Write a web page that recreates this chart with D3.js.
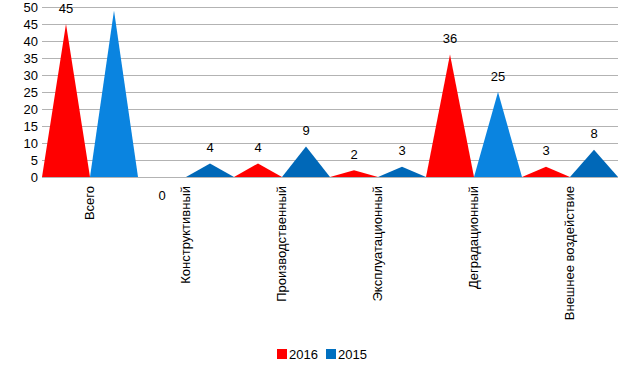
<!DOCTYPE html>
<html><head><meta charset="utf-8">
<script src="https://cdn.jsdelivr.net/npm/d3@7/dist/d3.min.js"></script>
<style>
body{margin:0;background:#fff;}
svg{font-family:"Liberation Sans",Arial,sans-serif;}
</style></head>
<body><svg id="c" width="643" height="365"></svg>
<script>
const categories = ["Всего","Конструктивный","Производственный","Эксплуатационный","Деградационный","Внешнее воздействие"];
const series2016 = [45,0,4,2,36,3];
const series2015 = [49,4,9,3,25,8];
const labels2015 = [null,"4","9","3","25","8"];
const labels2016 = ["45","0","4","2","36","3"];
const seriesNames = ["2016","2015"];
const yTicks = [0,5,10,15,20,25,30,35,40,45,50];

const svg = d3.select("#c");
const L = 42, R = 618, T = 7, B = 177;
const x = d3.scaleBand().domain(categories).range([L,R]).padding(0);
const y = d3.scaleLinear().domain([0,50]).range([B,T]);

// grid
svg.append("g").selectAll("line").data(yTicks).join("line")
  .attr("x1",L).attr("x2",R).attr("y1",d=>y(d)+0.5).attr("y2",d=>y(d)+0.5)
  .attr("stroke","#b3b3b3").attr("stroke-width",1);

// y labels
svg.append("g").selectAll("text").data(yTicks).join("text")
  .attr("x",38).attr("y",d=>y(d)).attr("dy","0.35em").attr("text-anchor","end")
  .attr("font-size",13).attr("fill","#000").text(d=>d);

const red = "#ff0000";
const blueLight = "#0a84e0", blueDark = "#0068b8";

function tri(cat, off, v){
  const bw = x.bandwidth()/2;
  const x0 = x(cat)+off*bw, x1 = x0+bw, xm = x0+bw/2;
  return `M${x0},${y(0)}L${xm},${y(v)}L${x1},${y(0)}Z`;
}
const g = svg.append("g");
categories.forEach((c,i)=>{
  g.append("path").attr("d",tri(c,0,series2016[i])).attr("fill",red);
  g.append("path").attr("d",tri(c,1,series2015[i])).attr("fill",series2015[i]>20?blueLight:blueDark);
});

// value labels
function addLabel(cat, off, v, txt){
  if(txt==null) return;
  const bw = x.bandwidth()/2;
  const xm = x(cat)+off*bw+bw/2;
  const yy = v>0 ? y(v)-16 : y(0)+18;
  svg.append("text").attr("x",xm).attr("y",yy).attr("dy","0.35em")
    .attr("text-anchor","middle").attr("font-size",13).attr("fill","#000").text(txt);
}
categories.forEach((c,i)=>{
  addLabel(c,0,series2016[i],labels2016[i]);
  addLabel(c,1,series2015[i],labels2015[i]);
});

// category labels
svg.append("g").selectAll("text").data(categories).join("text")
  .attr("transform",d=>`translate(${x(d)+x.bandwidth()/2+4},186) rotate(-90)`)
  .attr("text-anchor","end").attr("font-size",13).attr("fill","#000").text(d=>d);

// legend
const leg = svg.append("g");
const legItems = [{n:seriesNames[0],c:red,x:277},{n:seriesNames[1],c:"#0070c0",x:326}];
legItems.forEach(it=>{
  leg.append("rect").attr("x",it.x).attr("y",349).attr("width",10).attr("height",10).attr("fill",it.c);
  leg.append("text").attr("x",it.x+12).attr("y",358.5).attr("font-size",13).attr("fill","#000").text(it.n);
});
</script></body></html>
